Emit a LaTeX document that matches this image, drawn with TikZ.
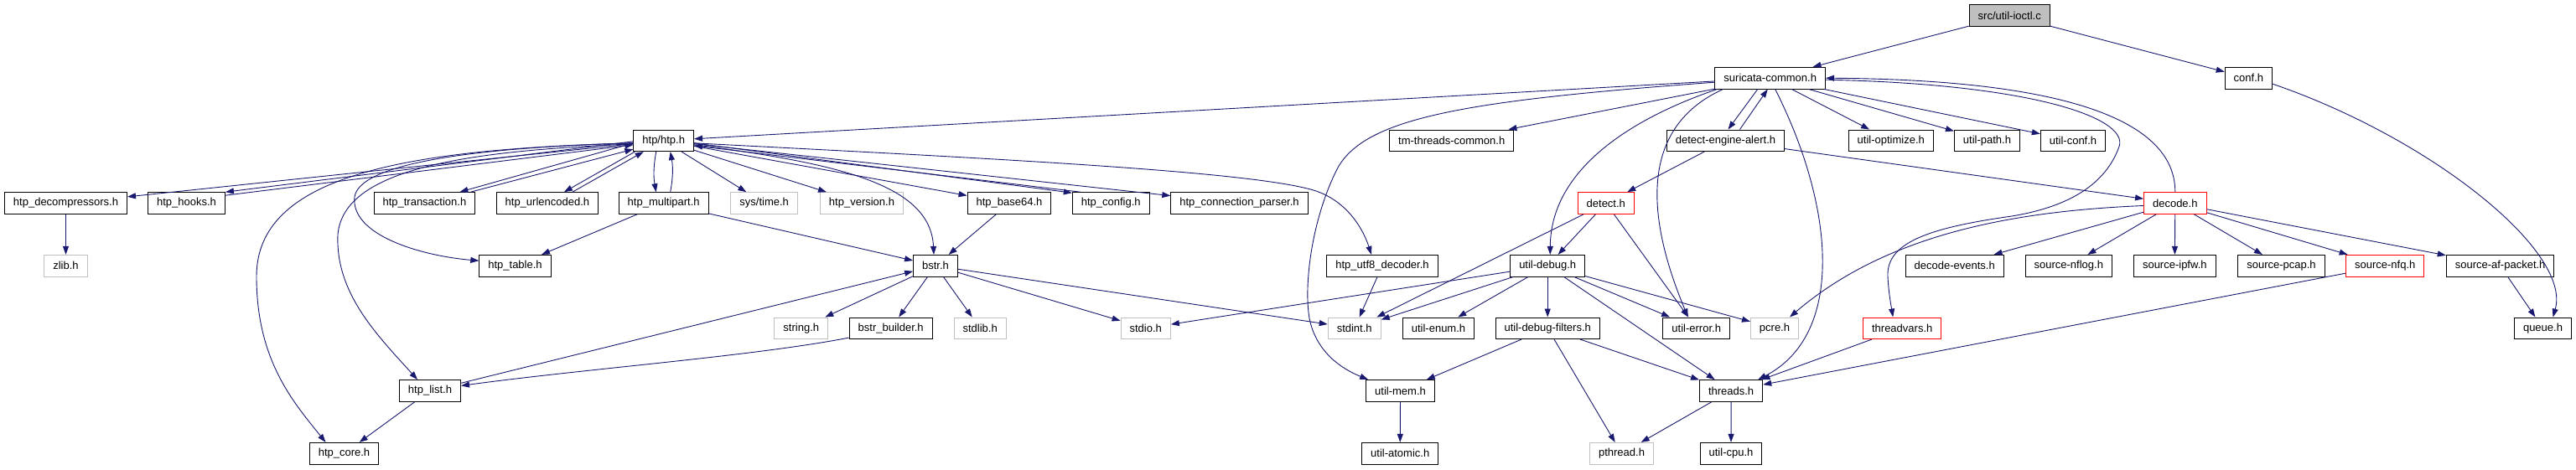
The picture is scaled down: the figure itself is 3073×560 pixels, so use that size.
\documentclass[tikz,border=0pt]{standalone}
\usepackage{fontspec}
\setmainfont{Liberation Sans}
\usetikzlibrary{arrows.meta,calc}
\definecolor{edgeblue}{HTML}{191970}
\definecolor{grey75}{HTML}{BFBFBF}
\begin{document}
\begin{tikzpicture}[x=1pt,y=-1pt,
  every node/.style={font=\fontsize{13}{15}\selectfont},
  box/.style={draw=black, fill=white, line width=1pt, minimum height=25.6pt, inner xsep=10.5pt, inner ysep=0pt},
  sysbox/.style={box, draw=grey75},
  redbox/.style={box, draw=red},
  rootbox/.style={box, fill=grey75},
  edge/.style={draw=edgeblue, line width=0.9pt, -{Triangle[length=10pt,width=7pt]}},
]
\fill[white] (0,0) rectangle (3073,560);
\path[use as bounding box] (0,0) rectangle (3073,560);
% row A
\node[rootbox] (root) at (2397.2,18.5) {src/util-ioctl.c};
% row B
\node[box] (sc) at (2111.7,93.2) {suricata-common.h};
\node[box] (conf) at (2682.4,93.2) {conf.h};
% row C
\node[box] (htp) at (791.7,167.8) {htp/htp.h};
\node[box] (tmtc) at (1731.7,167.8) {tm-threads-common.h};
\node[box] (dea) at (2058.5,167.8) {detect-engine-alert.h};
\node[box] (uopt) at (2255.8,167.8) {util-optimize.h};
\node[box] (upath) at (2370.5,167.8) {util-path.h};
\node[box] (uconf) at (2473,167.8) {util-conf.h};
% row D
\node[box] (hdec) at (78.5,242.5) {htp\_decompressors.h};
\node[box] (hhooks) at (222.5,242.5) {htp\_hooks.h};
\node[box] (htrans) at (506.4,242.5) {htp\_transaction.h};
\node[box] (hurl) at (652.9,242.5) {htp\_urlencoded.h};
\node[box] (hmulti) at (791.7,242.5) {htp\_multipart.h};
\node[sysbox] (systime) at (911.7,242.5) {sys/time.h};
\node[sysbox] (hver) at (1028,242.5) {htp\_version.h};
\node[box] (hb64) at (1204,242.5) {htp\_base64.h};
\node[box] (hconf) at (1325.2,242.5) {htp\_config.h};
\node[box] (hcp) at (1478.5,242.5) {htp\_connection\_parser.h};
\node[redbox] (detect) at (1915.8,242.5) {detect.h};
\node[redbox] (decode) at (2594.8,242.5) {decode.h};
% row E
\node[sysbox] (zlib) at (78.5,317.2) {zlib.h};
\node[box] (htable) at (614.5,317.2) {htp\_table.h};
\node[box] (bstr) at (1116,317.2) {bstr.h};
\node[box] (hutf) at (1649,317.2) {htp\_utf8\_decoder.h};
\node[box] (udebug) at (1846.2,317.2) {util-debug.h};
\node[box] (devents) at (2331.7,317.2) {decode-events.h};
\node[box] (snflog) at (2467.8,317.2) {source-nflog.h};
\node[box] (sipfw) at (2594.3,317.2) {source-ipfw.h};
\node[box] (spcap) at (2721.5,317.2) {source-pcap.h};
\node[redbox] (snfq) at (2845.2,317.2) {source-nfq.h};
\node[box] (safp) at (2982.6,317.2) {source-af-packet.h};
% row F
\node[sysbox] (string) at (955.8,391.8) {string.h};
\node[box] (bbuild) at (1062.7,391.8) {bstr\_builder.h};
\node[sysbox] (stdlib) at (1169.2,391.8) {stdlib.h};
\node[sysbox] (stdio) at (1366.7,391.8) {stdio.h};
\node[sysbox] (stdint) at (1615.7,391.8) {stdint.h};
\node[box] (uenum) at (1716,391.8) {util-enum.h};
\node[box] (udf) at (1846.2,391.8) {util-debug-filters.h};
\node[box] (uerr) at (2023.7,391.8) {util-error.h};
\node[sysbox] (pcre) at (2117,391.8) {pcre.h};
\node[redbox] (tvars) at (2269.2,391.8) {threadvars.h};
\node[box] (queue) at (3033.5,391.8) {queue.h};
% row G
\node[box] (hlist) at (513,466.4) {htp\_list.h};
\node[box] (umem) at (1670.5,466.4) {util-mem.h};
\node[box] (threads) at (2065.1,466.4) {threads.h};
% row H
\node[box] (hcore) at (410.5,541.2) {htp\_core.h};
\node[box] (uatom) at (1670.2,541.2) {util-atomic.h};
\node[sysbox] (pthread) at (1934.5,541.2) {pthread.h};
\node[box] (ucpu) at (2065,541.2) {util-cpu.h};

% straight connectors
\foreach \a/\b in {root/sc, root/conf, sc/htp, sc/tmtc, sc/uopt, sc/upath, sc/uconf,
  dea/detect, dea/decode, decode/devents, decode/snflog, decode/sipfw, decode/spcap,
  decode/snfq, decode/safp, safp/queue, htp/hdec, htp/systime, htp/hver, htp/hb64,
  htp/hcp, hdec/zlib, hmulti/htable, hmulti/bstr, hb64/bstr, bstr/string, bstr/bbuild,
  bstr/stdlib, bstr/stdio, bstr/stdint, hutf/stdint, hlist/bstr, hlist/hcore,
  detect/udebug, detect/uerr, detect/stdint, udebug/stdio, udebug/stdint, udebug/uenum,
  udebug/udf, udebug/uerr, udebug/pcre, udebug/threads, udf/umem, udf/pthread,
  udf/threads, umem/uatom, threads/pthread, threads/ucpu, tvars/threads, snfq/threads}
  \draw[edge] (\a) -- (\b);

% paired connectors
\draw[edge] ($(sc.south)+(-15,0)$) -- ($(dea.north)+(3,0)$);
\draw[edge] ($(dea.north)+(17,0)$) -- ($(sc.south)+(-3,0)$);
\draw[edge] ($(htp.west)+(0,1)$) -- (hhooks.north east);
\draw[edge] ($(hhooks.north east)+(0,4)$) -- ($(htp.west)+(0,5)$);
\draw[edge] ($(htp.west)+(0,3)$) -- ($(htrans.north)+(42,0)$);
\draw[edge] ($(htrans.north)+(55,0)$) -- ($(htp.south west)+(0,-3)$);
\draw[edge] ($(htp.south west)+(2,0)$) -- ($(hurl.north)+(20,0)$);
\draw[edge] ($(hurl.north)+(30,0)$) -- ($(htp.south)+(-24,0)$);
\draw[edge] ($(htp.south)+(-9,0)$) to[bend right=10] ($(hmulti.north)+(-9,0)$);
\draw[edge] ($(hmulti.north)+(8,0)$) to[bend right=10] ($(htp.south)+(8,0)$);
\draw[edge] ($(htp.east)+(0,3)$) -- ($(hconf.north west)+(0,1)$);
\draw[edge] ($(hconf.north west)+(10,0)$) -- ($(htp.east)+(0,6)$);

% curved connectors
\draw[edge] ($(htp.east)+(0,3)$) .. controls (1200,190) and (1500,205) .. (1570,228)
  .. controls (1605,240) and (1625,270) .. ($(hutf.north)+(-13,0)$);
\draw[edge] ($(htp.east)+(0,5)$) .. controls (1000,195) and (1110,220) .. ($(bstr.north)+(-2,0)$);
\draw[edge] ($(htp.west)+(0,3)$) .. controls (600,175) and (430,190) .. (423,235)
  .. controls (418,280) and (500,305) .. ($(htable.west)+(0,-6)$);
\draw[edge] ($(htp.west)+(0,4)$) .. controls (560,180) and (410,200) .. (403,280)
  .. controls (400,350) and (450,400) .. ($(hlist.north)+(-15,0)$);
\draw[edge] ($(htp.west)+(0,3)$) .. controls (480,178) and (306,210) .. (306,330)
  .. controls (306,430) and (350,480) .. ($(hcore.north)+(-22,0)$);
\draw[edge] ($(bbuild.south west)+(0,-2)$) .. controls (900,425) and (700,440) .. ($(hlist.east)+(0,-6)$);
\draw[edge] ($(sc.west)+(0,5)$) .. controls (1750,120) and (1630,140) .. (1596,200)
  .. controls (1565,260) and (1555,340) .. (1562,380)
  .. controls (1570,420) and (1600,440) .. ($(umem.north west)+(3,0)$);
\draw[edge] ($(sc.south west)+(3,0)$) .. controls (1950,140) and (1850,200) .. ($(udebug.north)+(3,0)$);
\draw[edge] ($(sc.south west)+(10,0)$) .. controls (1960,150) and (1960,250) .. ($(uerr.north)+(-10,0)$);
\draw[edge] ($(sc.south)+(6,0)$) .. controls (2190,250) and (2200,400) .. ($(threads.north east)+(-6,0)$);
\draw[edge] ($(sc.east)+(0,2)$) .. controls (2420,100) and (2540,140) .. (2528,175)
  .. controls (2510,225) and (2460,248) .. (2400,258)
  .. controls (2300,272) and (2250,290) .. (2252,330)
  .. controls (2253,350) and (2256,365) .. ($(tvars.north)+(-11,0)$);
\draw[edge] (decode.north) .. controls (2595,130) and (2420,95) .. (sc.east);
\draw[edge] ($(decode.west)+(0,3)$) .. controls (2400,252) and (2250,280) .. ($(pcre.north)+(18,0)$);
\draw[edge] ($(conf.east)+(0,7)$) .. controls (2900,165) and (3068,300) .. ($(queue.north)+(12,0)$);
\end{tikzpicture}
\end{document}
